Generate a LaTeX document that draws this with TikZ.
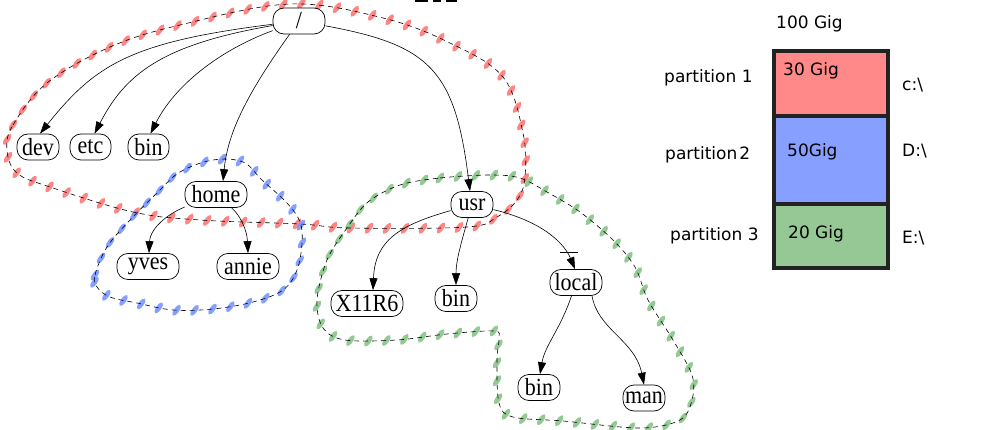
\documentclass[tikz,border=0pt]{standalone}
\usepackage{fontspec}
\setmainfont{Liberation Serif}
\newfontfamily\labfont{DejaVu Sans}
\usetikzlibrary{arrows.meta,decorations.markings}
\definecolor{pred}{RGB}{255,120,120}
\definecolor{pblue}{RGB}{120,150,255}
\definecolor{pgreen}{RGB}{135,195,135}
\definecolor{fred}{RGB}{255,136,136}
\definecolor{fblue}{RGB}{135,160,255}
\definecolor{fgreen}{RGB}{150,200,150}
\definecolor{frame}{RGB}{34,34,34}
\newcommand{\tnt}[1]{\scalebox{1}[1.12]{#1}}
\tikzset{
  tn/.style={draw, fill=white, line width=0.7pt, rounded corners=11pt, minimum height=26pt, inner sep=0pt,
    font=\fontsize{22}{22}\selectfont},
  edge/.style={line width=0.6pt, -{Triangle[length=12pt,width=8pt]}},
  blackdash/.style={line width=0.6pt, dash pattern=on 5pt off 4pt},
  brush/.style={decoration={markings,
      mark=between positions 0 and 1 step 18pt with {\pgftransformresetnontranslations
        \fill[#1, opacity=0.9] (0,0) ellipse [x radius=6.5pt, y radius=2.6pt, rotate=55];}},
    decorate},
  lab/.style={font=\labfont\fontsize{17}{17}\selectfont, inner sep=0pt, anchor=base west},
  part/.style={draw=frame, line width=3.7pt}
}
\begin{document}
\begin{tikzpicture}[x=1pt,y=-1pt]
\useasboundingbox (0,0) rectangle (988,430);

% outlines (brush strokes + thin dashed)
\def\redpath{plot[smooth cycle, tension=0.6] coordinates {(7,150) (13,125) (47,83) (110,47) (180,25) (290,4) (383,18) (450,43) (503,77) (523,133) (525,177) (517,200) (497,217) (467,227) (350,228) (300,224) (200,220) (133,212) (50,187) (17,173)}}
\def\bluepath{plot[smooth cycle, tension=0.6] coordinates {(97,287) (95,275) (107,247) (130,220) (157,193) (180,172) (213,160) (243,162) (262,180) (287,203) (300,222) (302,243) (297,270) (283,290) (253,302) (213,309) (173,310) (137,303) (110,297)}}
\def\greenpath{plot[smooth cycle, tension=0.55] coordinates {(400,185) (440,178) (490,175) (520,178) (547,192) (580,212) (613,240) (635,267) (648,300) (673,340) (692,375) (692,400) (680,420) (640,428) (563,421) (513,417) (499,403) (497,360) (499,338) (494,331) (447,334) (397,340) (345,340) (323,328) (317,300) (327,260) (347,228) (368,202)}}
\path[brush=pred] \redpath;
\path[brush=pblue] \bluepath;
\path[brush=pgreen] \greenpath;
\draw[blackdash] \redpath;
\draw[blackdash] \bluepath;
\draw[blackdash] \greenpath;

% tree nodes
\node[tn, minimum width=52pt] (root) at (299,21) {\tnt{/}};
\node[tn, minimum width=42pt] (dev) at (38,147) {\tnt{dev}};
\node[tn, minimum width=41pt] (etc) at (90.5,147) {\tnt{etc}};
\node[tn, minimum width=41pt] (bin) at (148.5,147) {\tnt{bin}};
\node[tn, minimum width=62pt] (home) at (216,194.5) {\tnt{home}};
\node[tn, minimum width=42pt] (usr) at (472,204.5) {\tnt{usr}};
\node[tn, minimum width=62pt] (yves) at (148,266.5) {\tnt{yves}};
\node[tn, minimum width=62pt] (annie) at (248,266.5) {\tnt{annie}};
\node[tn, minimum width=72pt] (x11) at (367,303.5) {\tnt{X11R6}};
\node[tn, minimum width=42pt] (ubin) at (456,298.5) {\tnt{bin}};
\node[tn, minimum width=52pt] (local) at (576,282.5) {\tnt{local}};
\node[tn, minimum width=42pt] (lbin) at (539,387.5) {\tnt{bin}};
\node[tn, minimum width=42pt] (man) at (644,398) {\tnt{man}};

% edges
\draw[edge] (root) .. controls (130,42) and (95,65) .. ([xshift=2pt]dev.north);
\draw[edge] (root) .. controls (160,45) and (125,75) .. ([xshift=4pt]etc.north);
\draw[edge] (root) .. controls (220,50) and (175,85) .. ([xshift=2pt]bin.north);
\draw[edge] (root) .. controls (250,90) and (228,130) .. ([xshift=7pt]home.north);
\draw[edge] (root) .. controls (430,45) and (455,70) .. ([xshift=-2pt]usr.north);
\draw[edge] (home) .. controls (165,215) and (150,230) .. ([xshift=1pt]yves.north);
\draw[edge] (home) .. controls (240,215) and (247,230) .. (annie.north);
\draw[edge] (usr) .. controls (400,225) and (375,240) .. ([xshift=6pt]x11.north);
\draw[edge] (usr) .. controls (462,240) and (456,260) .. (ubin.north);
\draw[edge] (usr) .. controls (545,222) and (565,245) .. ([xshift=-1pt]local.north);
\draw[edge] (local) .. controls (560,330) and (545,345) .. ([xshift=1pt]lbin.north);
\draw[edge] ([xshift=16pt]local.south) .. controls (598,330) and (635,340) .. (man.north);

% small stray marks
\draw[line width=0.6pt] (560,252) -- (578,252);
\draw[line width=1.6pt] (415,0.8) -- (428,0.8) (433,0.8) -- (441,0.8) (446,0.8) -- (457,0.8);

% partitions
\fill[fred] (774,51) rectangle (887.7,116);
\fill[fblue] (774,116) rectangle (887.7,204);
\fill[fgreen] (774,204) rectangle (887.7,268.3);
\draw[part] (774,116) -- (887.7,116);
\draw[part] (774,204) -- (887.7,204);
\draw[part] (774,51) rectangle (887.7,268.3);

\node[lab] (total) at (776,29) {100 Gig};
\node[lab] (p1) at (664,83) {partition 1};
\node[lab] (s1) at (783,76) {30 Gig};
\node[lab] (d1) at (902,91) {c:\textbackslash};
\node[lab] (p2) at (665,160) {partition\hspace{2pt}2};
\node[lab] (s2) at (787,157) {50Gig};
\node[lab] (d2) at (902,157) {D:\textbackslash};
\node[lab] (p3) at (670,241) {partition 3};
\node[lab] (s3) at (788,239) {20 Gig};
\node[lab] (d3) at (902,244) {E:\textbackslash};
\end{tikzpicture}
\end{document}
